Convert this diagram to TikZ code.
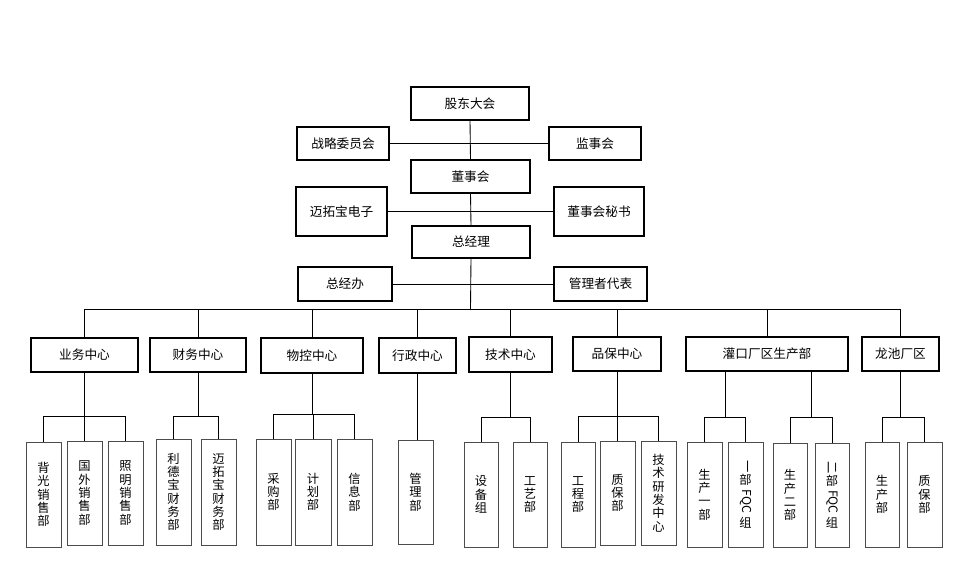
\documentclass[tikz,border=0pt]{standalone}
\usepackage{fontspec}
\newfontfamily\cjk{Noto Sans CJK SC}
\usetikzlibrary{calc}
\newcommand\bx[7]{\node[#7, minimum width={(#4-#2)*0.75pt}, minimum height={(#5-#3)*0.75pt}] (#1) at ({(#2+#4)/2},{(#3+#5)/2}) {#6};}
\newcommand\rt[1]{\rotatebox[origin=c]{-90}{#1}}
\begin{document}
\begin{tikzpicture}[x=0.75pt,y=-0.75pt,
  thickbox/.style={draw=black, line width=2.2pt, inner sep=0pt, outer sep=0pt, font=\cjk\fontsize{9.5}{11}\selectfont},
  leafbox/.style={draw=black!70, line width=0.6pt, inner sep=0pt, outer sep=0pt, align=center, font=\cjk\fontsize{9.2}{10}\selectfont},
  conn/.style={draw=black, line width=0.65pt}]
\useasboundingbox[fill=white] (0,0) rectangle (964,573);
% top
\bx{gd}{411}{87}{529}{120}{股东大会}{thickbox}
\bx{zl}{297}{127}{389}{160}{战略委员会}{thickbox}
\bx{js}{549}{127}{641}{160}{监事会}{thickbox}
\bx{ds}{411}{160}{530}{193}{董事会}{thickbox}
\bx{mt}{296}{187}{387}{236}{迈拓宝电子}{thickbox}
\bx{ms}{554}{187}{644}{236}{董事会秘书}{thickbox}
\bx{zj}{412}{226}{530}{258}{总经理}{thickbox}
\bx{zb}{298}{267}{392}{301}{总经办}{thickbox}
\bx{gl}{554}{267}{647}{301}{管理者代表}{thickbox}
% level 2
\bx{yw}{31}{338}{138}{372}{业务中心}{thickbox}
\bx{cw}{150}{338}{246}{372}{财务中心}{thickbox}
\bx{wk}{261}{338}{363}{373}{物控中心}{thickbox}
\bx{xz}{379}{338}{456}{373}{行政中心}{thickbox}
\bx{jszx}{469}{337}{552}{372}{技术中心}{thickbox}
\bx{pb}{573}{337}{661}{371}{品保中心}{thickbox}
\bx{gk}{686}{337}{848}{371}{灌口厂区生产部}{thickbox}
\bx{lc}{862}{337}{939}{371}{龙池厂区}{thickbox}
% level 3
\bx{a1}{26}{442}{61}{547}{背\\光\\销\\售\\部}{leafbox}
\bx{a2}{67}{441}{102}{545}{国\\外\\销\\售\\部}{leafbox}
\bx{a3}{108}{441}{143}{545}{照\\明\\销\\售\\部}{leafbox}
\bx{b1}{156}{439}{191}{545}{利\\德\\宝\\财\\务\\部}{leafbox}
\bx{b2}{201}{439}{236}{545}{迈\\拓\\宝\\财\\务\\部}{leafbox}
\bx{c1}{256}{439}{291}{545}{采\\购\\部}{leafbox}
\bx{c2}{295}{439}{331}{545}{计\\划\\部}{leafbox}
\bx{c3}{337}{439}{372}{545}{信\\息\\部}{leafbox}
\bx{d1}{398}{440}{433}{544}{管\\理\\部}{leafbox}
\bx{e1}{464}{442}{498}{547}{设\\备\\组}{leafbox}
\bx{e2}{513}{442}{547}{547}{工\\艺\\部}{leafbox}
\bx{f1}{561}{442}{595}{547}{工\\程\\部}{leafbox}
\bx{f2}{600}{441}{635}{545}{质\\保\\部}{leafbox}
\bx{f3}{641}{441}{676}{545}{技\\术\\研\\发\\中\\心}{leafbox}
\bx{g1}{687}{442}{722}{547}{生\\产\\一\\部}{leafbox}
\bx{g2}{728}{442}{763}{547}{\rt{一}\\部\\[2pt]\rt{FQC}\\[2pt]组}{leafbox}
\bx{g3}{773}{443}{807}{547}{生\\产\\二\\部}{leafbox}
\bx{g4}{815}{443}{849}{547}{\rt{二}\\部\\[2pt]\rt{FQC}\\[2pt]组}{leafbox}
\bx{h1}{865}{442}{899}{547}{生\\产\\部}{leafbox}
\bx{h2}{907}{442}{942}{547}{质\\保\\部}{leafbox}
% spine
\draw[conn] (gd.south) -- (ds.north);
\draw[conn] (ds.south) -- (zj.north);
\draw[conn] (zl.east) -- (js.west);
\draw[conn] (mt.east) -- (ms.west);
\draw[conn] (zb.east) -- (gl.west);
\coordinate (bus) at (470.5,309);
\draw[conn] (zj.south) -- (bus);
\draw[conn] (yw.north) -- (yw.north |- bus) -- (lc.north |- bus) -- (lc.north);
\foreach \n in {cw,wk,xz,jszx,pb,gk}{\draw[conn] (\n.north) -- (\n.north |- bus);}
% level 3 brackets
\coordinate (br) at (0,416);
\draw[conn] (yw.south) -- (yw.south |- br);
\draw[conn] (a1.north) -- (a1.north |- br) -- (a3.north |- br) -- (a3.north);
\draw[conn] (a2.north) -- (a2.north |- br);
\draw[conn] (cw.south) -- (cw.south |- br);
\draw[conn] (b1.north) -- (b1.north |- br) -- (b2.north |- br) -- (b2.north);
\coordinate (br2) at (0,414);
\draw[conn] (wk.south) -- (wk.south |- br2);
\draw[conn] (c1.north) -- (c1.north |- br2) -- (c3.north |- br2) -- (c3.north);
\draw[conn] (c2.north) -- (c2.north |- br2);
\draw[conn] (xz.south) -- (xz.south |- d1.north);
\coordinate (br3) at (0,417);
\draw[conn] (jszx.south) -- (jszx.south |- br3);
\draw[conn] (e1.north) -- (e1.north |- br3) -- (e2.north |- br3) -- (e2.north);
\draw[conn] (pb.south) -- (pb.south |- br);
\draw[conn] (f1.north) -- (f1.north |- br) -- (f3.north |- br) -- (f3.north);
\draw[conn] (f2.north) -- (f2.north |- br);
\coordinate (m1) at ($(g1.north)!0.5!(g2.north)$);
\coordinate (m2) at ($(g3.north)!0.5!(g4.north)$);
\draw[conn] (m1 |- gk.south) -- (m1 |- br3);
\draw[conn] (m2 |- gk.south) -- (m2 |- br3);
\draw[conn] (g1.north) -- (g1.north |- br3) -- (g2.north |- br3) -- (g2.north);
\draw[conn] (g3.north) -- (g3.north |- br3) -- (g4.north |- br3) -- (g4.north);
\draw[conn] (lc.south) -- (lc.south |- br3);
\draw[conn] (h1.north) -- (h1.north |- br3) -- (h2.north |- br3) -- (h2.north);
\end{tikzpicture}
\end{document}
